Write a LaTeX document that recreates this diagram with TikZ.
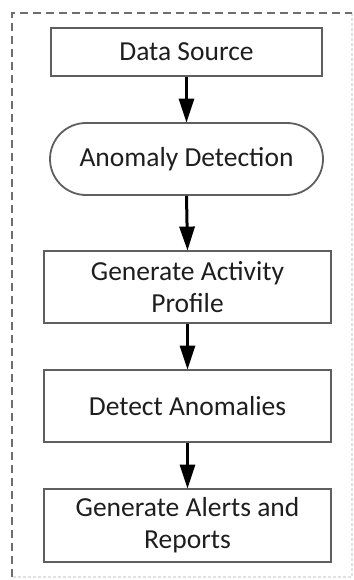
\documentclass[tikz,border=0pt]{standalone}
\usepackage{fontspec}
\setmainfont{Carlito}
\usetikzlibrary{arrows.meta,shapes.misc}
\definecolor{boxline}{RGB}{95,95,95}
\definecolor{framedark}{RGB}{110,110,110}
\definecolor{framelight}{RGB}{225,225,225}
\definecolor{txt}{RGB}{30,30,30}
\tikzset{
  stepbox/.style={draw=boxline, line width=1.8pt, fill=white, inner sep=0pt,
    minimum width=287pt, minimum height=72pt, align=center, text=txt,
    font=\fontsize{27.5}{32}\selectfont},
  termbox/.style={stepbox, rounded corners=36pt},
  flow/.style={draw=black, line width=3pt,
    -{Triangle[length=24pt, width=15pt]}, shorten >=-0.5pt},
}
\begin{document}
\begin{tikzpicture}[x=1pt, y=-1pt]
  \useasboundingbox (0,0) rectangle (353,580);
  \fill[white] (0,0) rectangle (353,580);
  % surrounding dashed frame
  \draw[framelight, line width=1.2pt, dash pattern=on 3pt off 2pt]
    (352,13) -- (352,577) -- (12,577);
  \draw[framedark, line width=1.6pt, dash pattern=on 8pt off 5pt]
    (12,577) -- (12,13) -- (352,13);
  % process steps
  \node[stepbox, minimum width=271pt, minimum height=48pt] (ds) at (186.5,52) {Data Source};
  \node[termbox, minimum width=273pt] (ad) at (186.5,159) {Anomaly Detection};
  \node[stepbox] (gap) at (187.5,287) {Generate Activity\\Profile};
  \node[stepbox] (da) at (187.5,406) {Detect Anomalies};
  \node[stepbox, minimum height=73pt] (ga) at (187.5,525.5) {Generate Alerts and\\Reports};
  % connectors
  \draw[flow] (ds.south) -- (ad.north);
  \draw[flow] (ad.south) -- (gap.north);
  \draw[flow] (gap.south) -- (da.north);
  \draw[flow] (da.south) -- (ga.north);
\end{tikzpicture}
\end{document}
